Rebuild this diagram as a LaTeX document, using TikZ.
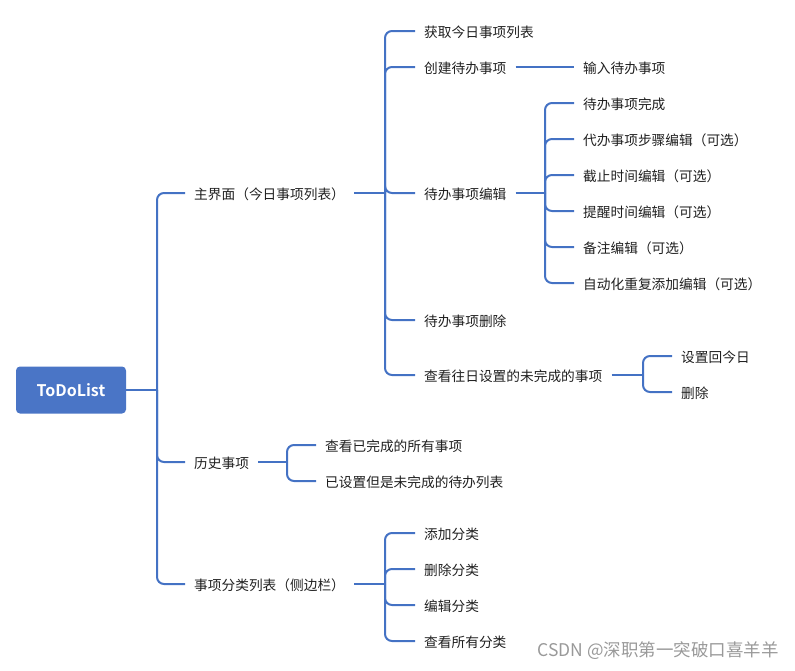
\documentclass[tikz,border=0pt]{standalone}
\usepackage{fontspec}
\setmainfont{Noto Sans CJK SC}
\newfontfamily\cjkbold{Noto Sans CJK SC Bold}
\definecolor{linec}{HTML}{4472C4}
\definecolor{rootc}{HTML}{4A75C6}
\definecolor{txtc}{HTML}{1F1F1F}
\begin{document}
\begin{tikzpicture}[x=1pt,y=-1pt,
  item/.style={anchor=west,inner xsep=9pt,inner ysep=2pt,text=txtc,
    font=\fontsize{13.7}{16}\selectfont,text height=14pt,text depth=1pt},
  conn/.style={draw=linec,line width=2pt,rounded corners=7pt},
  rootbox/.style={rectangle,rounded corners=4pt,fill=rootc,text=white,
    minimum width=110pt,minimum height=47pt,font=\cjkbold\fontsize{16}{18}\selectfont}]
\useasboundingbox (0,0) rectangle (795,670);
% root
\node[rootbox] (root) at (71,390) {ToDoList};
% level 1
\node[item] (a1) at (185,193) {主界面（今日事项列表）};
\node[item] (a2) at (185,462) {历史事项};
\node[item] (a3) at (185,584) {事项分类列表（侧边栏）};
% level 2 under a1
\node[item] (b1) at (415,31) {获取今日事项列表};
\node[item] (b2) at (415,67) {创建待办事项};
\node[item] (b3) at (415,193) {待办事项编辑};
\node[item] (b4) at (415,320) {待办事项删除};
\node[item] (b5) at (415,375) {查看往日设置的未完成的事项};
\node[item] (c1) at (574,67) {输入待办事项};
\node[item] (d1) at (574,103) {待办事项完成};
\node[item] (d2) at (574,139) {代办事项步骤编辑（可选）};
\node[item] (d3) at (574,175) {截止时间编辑（可选）};
\node[item] (d4) at (574,211) {提醒时间编辑（可选）};
\node[item] (d5) at (574,247) {备注编辑（可选）};
\node[item] (d6) at (574,283) {自动化重复添加编辑（可选）};
\node[item] (e1) at (672,356) {设置回今日};
\node[item] (e2) at (672,392) {删除};
% under a2
\node[item] (f1) at (316,445) {查看已完成的所有事项};
\node[item] (f2) at (316,481) {已设置但是未完成的待办列表};
% under a3
\node[item] (g1) at (415,533) {添加分类};
\node[item] (g2) at (415,569) {删除分类};
\node[item] (g3) at (415,605) {编辑分类};
\node[item] (g4) at (415,641) {查看所有分类};
% trunk junction coordinates
\coordinate (t0) at (157,390);
\coordinate (t1) at (385,193);
\coordinate (t3) at (545,193);
\coordinate (t5) at (643,375);
\coordinate (t2) at (287,462);
\coordinate (t4) at (385,584);
% connectors
\draw[conn] (root.east) -- (t0);
\foreach \c in {a1,a2,a3} \draw[conn] (t0) |- (\c.west);
\draw[conn] (a1.east) -- (t1);
\foreach \c in {b1,b2,b3,b4,b5} \draw[conn] (t1) |- (\c.west);
\draw[conn] (b2.east) -- (c1.west);
\draw[conn] (b3.east) -- (t3);
\foreach \c in {d1,d2,d3,d4,d5,d6} \draw[conn] (t3) |- (\c.west);
\draw[conn] (b5.east) -- (t5);
\foreach \c in {e1,e2} \draw[conn] (t5) |- (\c.west);
\draw[conn] (a2.east) -- (t2);
\foreach \c in {f1,f2} \draw[conn] (t2) |- (\c.west);
\draw[conn] (a3.east) -- (t4);
\foreach \c in {g1,g2,g3,g4} \draw[conn] (t4) |- (\c.west);
% watermark
\node[anchor=east,inner sep=0pt,text=black!40,font=\fontsize{17.5}{20}\selectfont] (wm) at (779,651) {CSDN @深职第一突破口喜羊羊};
\end{tikzpicture}
\end{document}
